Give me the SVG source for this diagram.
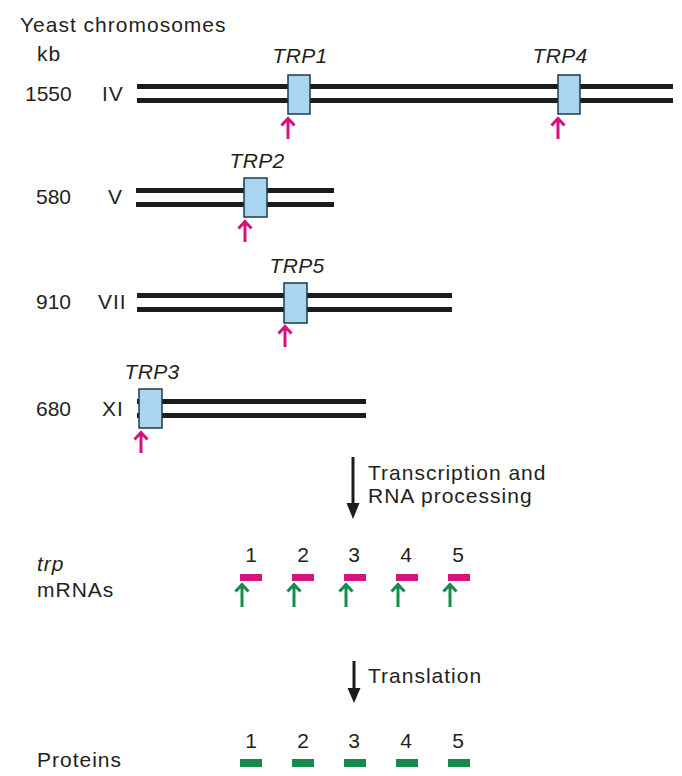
<svg xmlns="http://www.w3.org/2000/svg" width="682" height="776" viewBox="0 0 682 776">
<style>
.t{font-family:"Liberation Sans",Arial,sans-serif;font-size:21px;fill:#231f20;letter-spacing:1px}
.n{font-family:"Liberation Sans",Arial,sans-serif;font-size:21px;fill:#231f20}
.i{font-style:italic;text-anchor:middle;letter-spacing:0.3px}
.c{text-anchor:middle}
.chr{fill:#1c1c1c}
.gene{fill:#a9d5f0;stroke:#1d3a4c;stroke-width:1.5}
.pk{fill:none;stroke:#d4137f;stroke-width:3}
.gr{fill:none;stroke:#168a4c;stroke-width:3}
.mr{fill:#d4137f}
.pr{fill:#168a4c}
.ar{stroke:#1c1c1c;stroke-width:3}
</style>
<defs>
<path id="up" d="M0,1.5 V22 M-6.5,8.5 L0,1.5 L6.5,8.5"/>
<path id="upg" d="M0,1.5 V24 M-6.5,8.5 L0,1.5 L6.5,8.5"/>
</defs>
<g id="header">
<text class="t" x="20" y="32">Yeast chromosomes</text>
<text class="t" x="37" y="61">kb</text>
</g>
<g id="chrIV">
<text class="n" x="25" y="101">1550</text>
<text class="t" x="102" y="101">IV</text>
<rect class="chr" x="137" y="84" width="536" height="5"/>
<rect class="chr" x="137" y="98" width="536" height="5"/>
</g>
<g id="TRP1">
<rect class="gene" x="288" y="75" width="22" height="39"/>
<text class="t i" x="300" y="63">TRP1</text>
<use href="#up" class="pk" x="288" y="117"/>
</g>
<g id="TRP4">
<rect class="gene" x="558" y="75" width="22" height="39"/>
<text class="t i" x="560" y="63">TRP4</text>
<use href="#up" class="pk" x="558" y="117"/>
</g>
<g id="chrV">
<text class="n" x="36" y="204">580</text>
<text class="t" x="108" y="204">V</text>
<rect class="chr" x="136" y="188" width="198" height="5"/>
<rect class="chr" x="136" y="202" width="198" height="5"/>
</g>
<g id="TRP2">
<rect class="gene" x="244" y="178" width="23" height="39"/>
<text class="t i" x="257" y="168">TRP2</text>
<use href="#up" class="pk" x="245" y="220"/>
</g>
<g id="chrVII">
<text class="n" x="36" y="309">910</text>
<text class="t" x="98" y="309">VII</text>
<rect class="chr" x="137" y="293" width="315" height="5"/>
<rect class="chr" x="137" y="307" width="315" height="5"/>
</g>
<g id="TRP5">
<rect class="gene" x="284" y="283" width="23" height="40"/>
<text class="t i" x="297" y="273">TRP5</text>
<use href="#up" class="pk" x="285" y="325"/>
</g>
<g id="chrXI">
<text class="n" x="36" y="416">680</text>
<text class="t" x="102" y="416">XI</text>
<rect class="chr" x="137" y="399" width="229" height="5"/>
<rect class="chr" x="137" y="413" width="229" height="5"/>
</g>
<g id="TRP3">
<rect class="gene" x="139" y="389" width="23" height="39"/>
<text class="t i" x="152" y="379">TRP3</text>
<use href="#up" class="pk" x="141" y="431"/>
</g>
<g id="connectors">
<line class="ar" x1="353" y1="457" x2="353" y2="506"/>
<polygon points="346.5,503 359.5,503 353,519" fill="#1c1c1c"/>
<line class="ar" x1="354" y1="661" x2="354" y2="690"/>
<polygon points="347.5,688 360.5,688 354,703" fill="#1c1c1c"/>
</g>
<g id="step1">
<text class="t" x="368" y="480">Transcription and</text>
<text class="t" x="368" y="503">RNA processing</text>
</g>
<g id="mRNAs">
<text class="t" x="37" y="571" font-style="italic">trp</text>
<text class="t" x="37" y="597">mRNAs</text>
<text class="n c" x="251" y="562">1</text>
<text class="n c" x="303" y="562">2</text>
<text class="n c" x="354" y="562">3</text>
<text class="n c" x="406" y="562">4</text>
<text class="n c" x="458" y="562">5</text>
<rect class="mr" x="240" y="574" width="22" height="7"/>
<rect class="mr" x="292" y="574" width="22" height="7"/>
<rect class="mr" x="344" y="574" width="22" height="7"/>
<rect class="mr" x="396" y="574" width="22" height="7"/>
<rect class="mr" x="448" y="574" width="22" height="7"/>
<use href="#upg" class="gr" x="242" y="583"/>
<use href="#upg" class="gr" x="294" y="583"/>
<use href="#upg" class="gr" x="346" y="583"/>
<use href="#upg" class="gr" x="398" y="583"/>
<use href="#upg" class="gr" x="450" y="583"/>
</g>
<g id="step2">
<text class="t" x="368" y="683">Translation</text>
</g>
<g id="proteins">
<text class="t" x="37" y="767">Proteins</text>
<text class="n c" x="251" y="748">1</text>
<text class="n c" x="303" y="748">2</text>
<text class="n c" x="354" y="748">3</text>
<text class="n c" x="406" y="748">4</text>
<text class="n c" x="458" y="748">5</text>
<rect class="pr" x="240" y="759" width="22" height="8"/>
<rect class="pr" x="292" y="759" width="22" height="8"/>
<rect class="pr" x="344" y="759" width="22" height="8"/>
<rect class="pr" x="396" y="759" width="22" height="8"/>
<rect class="pr" x="448" y="759" width="22" height="8"/>
</g>
</svg>
